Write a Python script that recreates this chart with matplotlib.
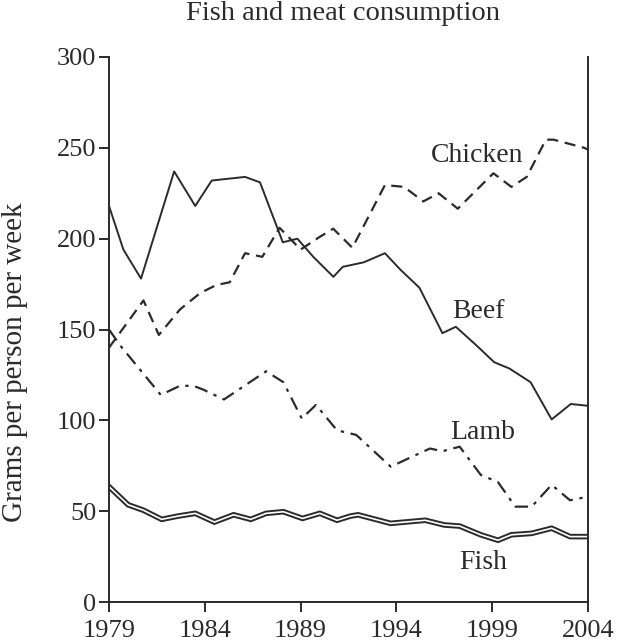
import matplotlib
matplotlib.use("Agg")
import matplotlib.pyplot as plt

plt.rcParams['font.family'] = ['Liberation Serif', 'DejaVu Serif']

##############################################################################
## Data (year, grams per person per week)

beef_yr = [1979, 1979.75, 1980.67, 1982.4, 1983.5, 1984.36, 1986.1, 1986.88, 1988.07,
           1988.83, 1989.66, 1990.71, 1991.2, 1992.3, 1993.4, 1994.2, 1995.2, 1996.4,
           1997.1, 1998.2, 1999.1, 1999.9, 2001.0, 2002.1, 2003.1, 2004]
beef = [218, 194, 178, 237, 218, 232, 234, 231, 198, 200, 190, 179, 184.5, 187, 192, 183,
        173, 148, 151.5, 141, 132, 128.5, 121, 100.5, 109, 108]

chicken_yr = [1979, 1980.8, 1981.6, 1982.7, 1983.75, 1984.6, 1985.3, 1986.1, 1987.0,
              1987.9, 1989.0, 1990.0, 1990.7, 1991.7, 1993.4, 1994.4, 1995.4, 1996.2,
              1997.2, 1999.06, 2000.0, 2000.8, 2001.8, 2002.2, 2003.8, 2004]
chicken = [140, 166, 147, 161, 170, 174.5, 176, 192, 190, 206, 194, 201, 205.5, 195,
           229.5, 228.5, 220.5, 225, 216.5, 236, 228.5, 234, 254.5, 254.5, 250, 249]

lamb_yr = [1979, 1979.6, 1981.7, 1982.7, 1983.4, 1983.9, 1985.0, 1987.2, 1988.1, 1989.06,
           1989.8, 1990.9, 1991.9, 1993.7, 1995.75, 1996.4, 1997.3, 1998.4, 1999.3,
           2000.2, 2001.06, 2002.1, 2003.06, 2004]
lamb = [150, 141, 114, 119, 119, 117, 111.5, 127, 121, 101, 108.5, 94.5, 92, 74.5, 84.5,
        83, 85.5, 70, 66, 52.5, 52.5, 64.5, 56, 58]

fish_yr = [1979, 1980, 1980.8, 1981.75, 1982.6, 1983.5, 1984.5, 1985.5, 1986.4, 1987.2,
           1988.1, 1989.1, 1990, 1990.9, 1991.6, 1992.0, 1993.7, 1995.5, 1996.5, 1997.3,
           1998.4, 1999.3, 2000, 2001.06, 2002.1, 2003.06, 2004]
fish = [63.5, 53.5, 50.5, 45.5, 47.3, 48.8, 44, 48, 45.5, 48.8, 49.7, 46, 48.8, 45, 47.3,
        48, 43.3, 45, 42.4, 41.8, 37, 34, 37, 37.8, 40.6, 36, 36]

year_ticks = [1979, 1984, 1989, 1994, 1999, 2004]
value_ticks = [0, 50, 100, 150, 200, 250, 300]

##############################################################################
## Plotting

ink = '#2b2b2b'
fig = plt.figure(figsize=(6.19, 6.44), dpi=100)
ax = fig.add_axes([0.1761, 0.0652, 0.7739, 0.8463])

ax.plot(beef_yr, beef, color=ink, lw=1.4)
ax.plot(chicken_yr, chicken, color=ink, lw=1.6, dashes=(5, 3))
ax.plot(lamb_yr, lamb, color=ink, lw=1.6, dashes=(6, 3, 1.5, 3))
ax.plot(fish_yr, fish, color=ink, lw=4.0, solid_joinstyle='miter')
ax.plot(fish_yr, fish, color='white', lw=1.2, solid_joinstyle='miter')

lab = dict(fontsize=20, color=ink, ha='center', va='center')
ax.text(1998.2, 246, 'Chicken', **lab)
ax.text(1998.3, 160, 'Beef', **lab)
ax.text(1998.5, 93.5, 'Lamb', **lab)
ax.text(1998.5, 21.5, 'Fish', **lab)

ax.set_xlim(1979, 2004)
ax.set_ylim(0, 300)
ax.set_xticks(year_ticks)
ax.set_yticks(value_ticks)
ax.tick_params(labelsize=19, colors=ink, length=7, width=1.4)
ax.tick_params(axis='y', pad=2)
ax.tick_params(axis='x', pad=6)
ax.spines['top'].set_visible(False)
for s in ['left', 'right', 'bottom']:
    ax.spines[s].set_color(ink)
    ax.spines[s].set_linewidth(1.4)

fig.text(15 / 619, 1 - 362 / 644, 'Grams per person per week', fontsize=21, color=ink,
         rotation=90, ha='center', va='center')
fig.text(343 / 619, 1 - 14 / 644, 'Fish and meat consumption', fontsize=20.5, color=ink,
         ha='center', va='center')

fig.savefig('out.png', dpi=100)
